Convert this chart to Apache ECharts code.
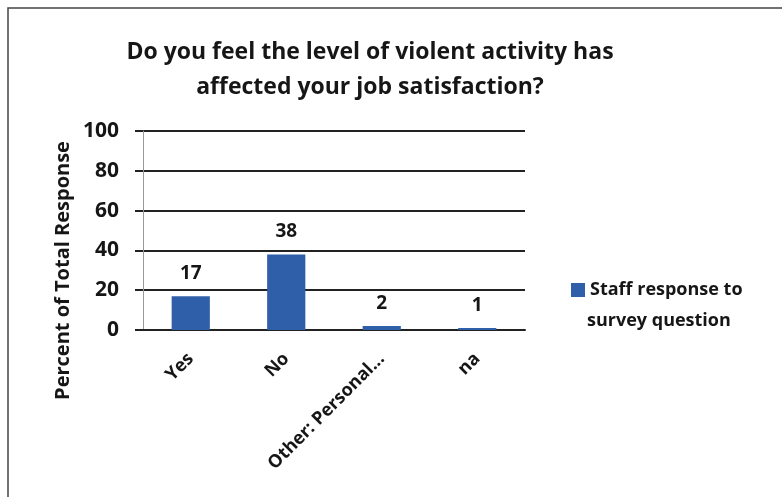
<!DOCTYPE html>
<head>
    <meta charset="utf-8">
    <title>Job satisfaction</title>
    <script src="https://cdn.jsdelivr.net/npm/echarts@6/dist/echarts.min.js"></script>
</head>
<body style="margin:0;background:#fff">
	<div id="chart" style="width:782px;height:497px"></div>
	<script type="text/javascript">
        // survey answers and their percent of total response
        var categories = ['Yes', 'No', 'Other: Personal...', 'na'];
        var staffResponse = [17, 38, 2, 1];
        var yTicks = [0, 20, 40, 60, 80, 100];

        var myChart = echarts.init(document.getElementById('chart'));
        var font = 'Open Sans';
        var ink = '#161616';
        var option = {
            backgroundColor: '#fff',
            textStyle: {fontFamily: font},
            title: {
                text: 'Do you feel the level of violent activity has\naffected your job satisfaction?',
                left: 365,
                textAlign: 'center',
                top: 30,
                textStyle: {fontSize: 23, fontWeight: 'bold', color: ink, lineHeight: 35, fontFamily: font}
            },
            legend: {
                data: ['Staff response to survey question'],
                left: 566,
                top: 276,
                icon: 'rect',
                itemWidth: 14,
                itemHeight: 14,
                itemGap: 5,
                formatter: function () { return 'Staff response to'; },
                textStyle: {fontSize: 18, fontWeight: 'bold', color: ink, fontFamily: font}
            },
            grid: {left: 143, right: 257, top: 131, bottom: 167},
            xAxis: {
                type: 'category',
                data: categories,
                axisLine: {lineStyle: {color: '#222', width: 2}},
                axisTick: {show: false},
                axisLabel: {rotate: 45, fontSize: 18, fontWeight: 'bold', color: ink, margin: 26, interval: 0}
            },
            yAxis: {
                type: 'value',
                min: yTicks[0],
                max: yTicks[yTicks.length - 1],
                interval: 20,
                name: 'Percent of Total Response',
                nameLocation: 'middle',
                nameGap: 70,
                nameTextStyle: {fontSize: 20, fontWeight: 'bold', color: ink, padding: [0, 80, 0, 0]},
                axisLine: {show: true, lineStyle: {color: '#999', width: 1}},
                axisTick: {show: true, length: 8, lineStyle: {color: '#222', width: 2}},
                axisLabel: {fontSize: 21, fontWeight: 'bold', color: ink, margin: 24},
                splitLine: {lineStyle: {color: '#222', width: 2}}
            },
            series: [{
                name: 'Staff response to survey question',
                type: 'bar',
                data: staffResponse,
                barWidth: '40%',
                itemStyle: {color: '#2f5fa8'},
                label: {show: true, position: 'top', distance: 13, fontSize: 19, fontWeight: 'bold', color: ink}
            }],
            graphic: [
                // second line of the legend text
                {
                    type: 'text',
                    left: 587,
                    top: 312,
                    style: {text: 'survey question', font: 'bold 18px "Open Sans"', fill: ink},
                    silent: true
                },
                // scanned frame edges
                {
                    type: 'polyline',
                    shape: {points: [[8, 497], [8, 8], [782, 8]]},
                    style: {fill: 'none', stroke: '#444', lineWidth: 1.5},
                    silent: true
                }
            ]
        };
        myChart.setOption(option);
    </script>
</body>
